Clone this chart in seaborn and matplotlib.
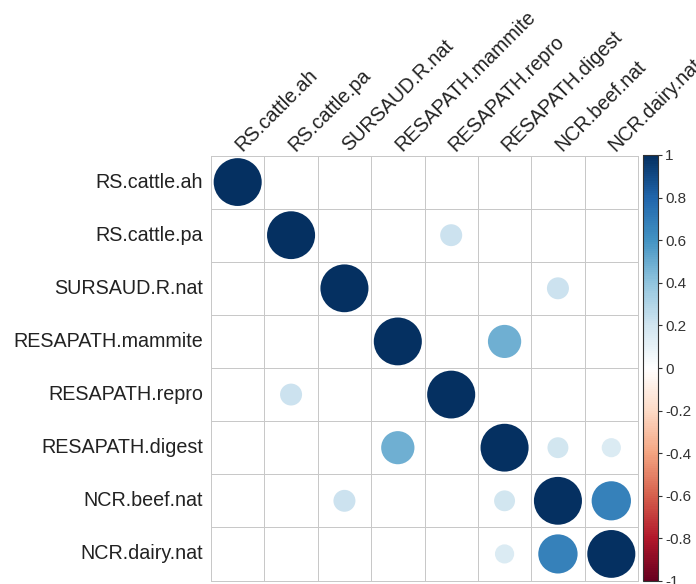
import numpy as np
import pandas as pd
import matplotlib
matplotlib.use("Agg")
import matplotlib.pyplot as plt
from matplotlib.colors import LinearSegmentedColormap, ListedColormap, Normalize
from matplotlib.patches import Circle
import seaborn as sns

labels = ["RS.cattle.ah", "RS.cattle.pa", "SURSAUD.R.nat", "RESAPATH.mammite",
          "RESAPATH.repro", "RESAPATH.digest", "NCR.beef.nat", "NCR.dairy.nat"]

# correlation values (blank cells shown as 0)
row_rs_ah        = [1.00, 0.00, 0.00, 0.00, 0.00, 0.00, 0.00, 0.00]
row_rs_pa        = [0.00, 1.00, 0.00, 0.00, 0.21, 0.00, 0.00, 0.00]
row_sursaud      = [0.00, 0.00, 1.00, 0.00, 0.00, 0.00, 0.21, 0.00]
row_mammite      = [0.00, 0.00, 0.00, 1.00, 0.00, 0.48, 0.00, 0.00]
row_repro        = [0.00, 0.21, 0.00, 0.00, 1.00, 0.00, 0.00, 0.00]
row_digest       = [0.00, 0.00, 0.00, 0.48, 0.00, 1.00, 0.19, 0.16]
row_beef         = [0.00, 0.00, 0.21, 0.00, 0.00, 0.19, 1.00, 0.67]
row_dairy        = [0.00, 0.00, 0.00, 0.00, 0.00, 0.16, 0.67, 1.00]

corr = pd.DataFrame([row_rs_ah, row_rs_pa, row_sursaud, row_mammite,
                     row_repro, row_digest, row_beef, row_dairy],
                    index=labels, columns=labels)

cbar_ticks = [1, 0.8, 0.6, 0.4, 0.2, 0, -0.2, -0.4, -0.6, -0.8, -1]
cbar_ticklabels = ["1", "0.8", "0.6", "0.4", "0.2", "0", "-0.2", "-0.4", "-0.6", "-0.8", "-1"]

sns.set_theme(style="white")
plt.rcParams["font.family"] = ["Liberation Sans", "DejaVu Sans"]

rdbu = LinearSegmentedColormap.from_list(
    "corr_rdbu",
    ["#67001F", "#B2182B", "#D6604D", "#F4A582", "#FDDBC7", "#FFFFFF",
     "#D1E5F0", "#92C5DE", "#4393C3", "#2166AC", "#053061"], N=200)
norm = Normalize(-1, 1)

fig = plt.figure(figsize=(6.96, 5.84), dpi=100)
W, H = 696, 584
left, right, top, bottom = 211, 638, 155.5, 580.5
ax = fig.add_axes([left / W, 1 - bottom / H, (right - left) / W, (bottom - top) / H])

# grid of white cells with light grey borders
sns.heatmap(corr, ax=ax, cmap=ListedColormap(["white"]), cbar=False,
            linewidths=0.6, linecolor="#C8C8C8", square=False,
            xticklabels=False, yticklabels=False)
ax.collections[0].set_clip_on(False)
ax.set_xlim(0, len(labels))
ax.set_ylim(len(labels), 0)

# circles: area proportional to |r|
n = len(labels)
for i in range(n):
    for j in range(n):
        r = corr.iloc[i, j]
        if r == 0:
            continue
        rad = 0.9 * np.sqrt(abs(r)) / 2
        ax.add_patch(Circle((j + 0.5, i + 0.5), rad, facecolor=rdbu(norm(r)),
                            edgecolor="none", zorder=3))

# row labels
for i, lab in enumerate(labels):
    ax.text(-0.15, i + 0.5, lab, ha="right", va="center", fontsize=14.2,
            color="#222222")
# column labels
for j, lab in enumerate(labels):
    ax.text(j + 0.58, -0.06, lab, ha="left", va="baseline", rotation=45,
            rotation_mode="anchor", fontsize=14.2, color="#222222", clip_on=False)

ax.set_xticks([])
ax.set_yticks([])
for s in ax.spines.values():
    s.set_visible(False)

# colour legend
cax = fig.add_axes([643 / W, 1 - 581 / H, 15 / W, (581 - 155) / H])
sm = plt.cm.ScalarMappable(cmap=rdbu, norm=norm)
cb = fig.colorbar(sm, cax=cax, orientation="vertical")
cb.set_ticks(cbar_ticks)
cb.set_ticklabels(cbar_ticklabels)
cb.outline.set_edgecolor("#333333")
cb.outline.set_linewidth(0.8)
cax.tick_params(labelsize=11, length=3, width=0.8, colors="#333333",
                labelcolor="#333333", pad=2, right=True, direction="out")

fig.savefig("out.png", dpi=100)
